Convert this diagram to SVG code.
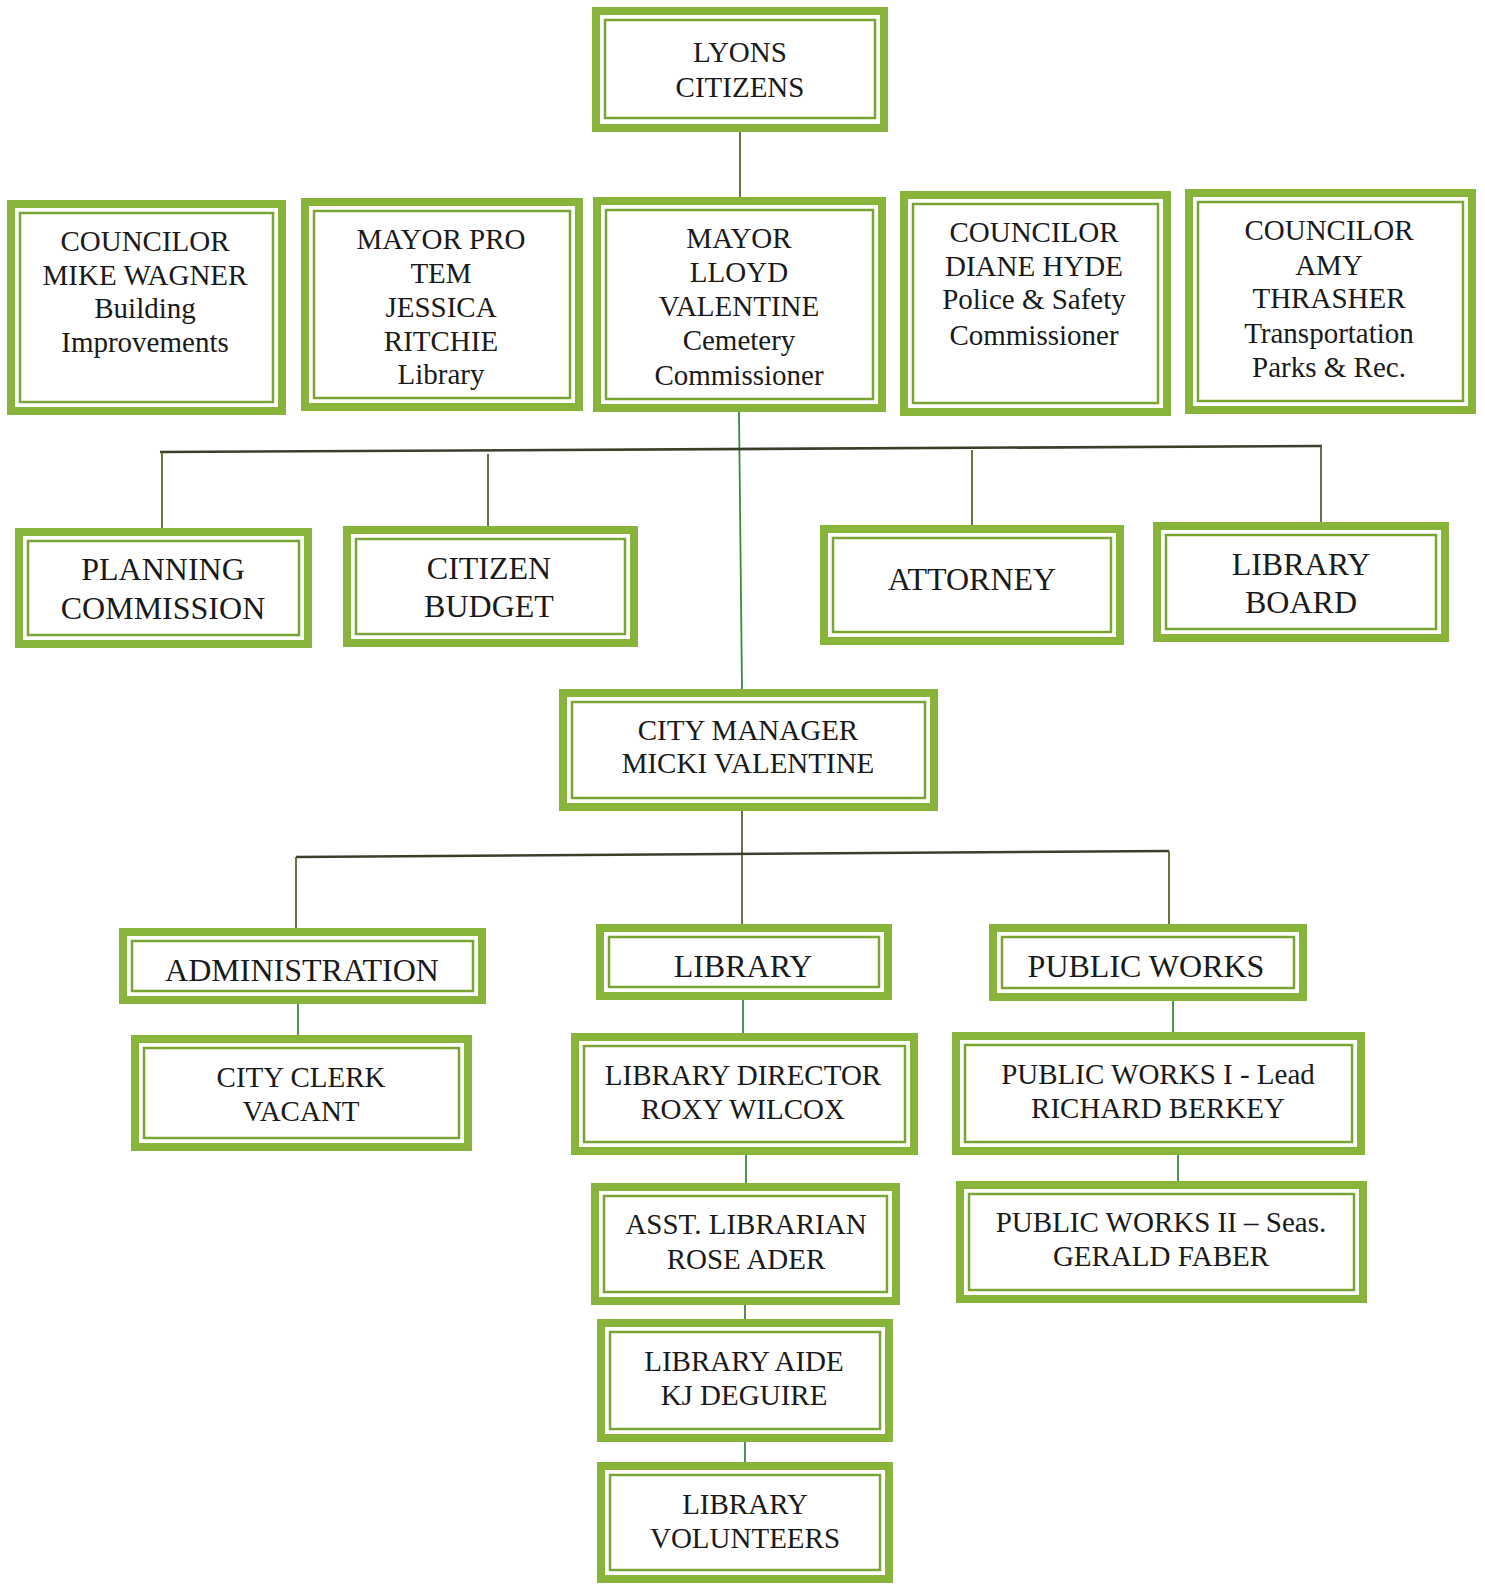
<svg xmlns="http://www.w3.org/2000/svg" width="1485" height="1585" viewBox="0 0 1485 1585">
<style>
.o{fill:#fff;stroke:#88b43c;stroke-width:8}
.i{fill:none;stroke:#7aa534;stroke-width:2.5}
text{font-family:"Liberation Serif","Times New Roman",serif;fill:#1a1a1a;text-anchor:middle}
.s{font-size:29px}
.l{font-size:32px}
.c{stroke:#55672a;stroke-width:1.8;fill:none}
.b{stroke:#3a3f2a;stroke-width:2.6;fill:none}
.g{stroke:#3a8a3a;stroke-width:1.8;fill:none}
</style>
<rect width="1485" height="1585" fill="#fff"/>
<g id="connectors">
<line class="c" x1="740" y1="131" x2="740" y2="197"/>
<line class="g" x1="739" y1="412" x2="742" y2="689"/>
<line class="b" x1="160" y1="452" x2="1322" y2="446"/>
<line class="c" x1="162" y1="452" x2="162" y2="528"/>
<line class="c" x1="488" y1="454" x2="488" y2="526"/>
<line class="c" x1="972" y1="450" x2="972" y2="525"/>
<line class="c" x1="1321" y1="446" x2="1321" y2="522"/>
<line class="c" x1="742" y1="811" x2="742" y2="924"/>
<line class="b" x1="296" y1="857" x2="1169" y2="851"/>
<line class="c" x1="296" y1="857" x2="296" y2="928"/>
<line class="c" x1="1169" y1="851" x2="1169" y2="924"/>
<line class="g" x1="298" y1="1004" x2="298" y2="1035"/>
<line class="g" x1="743" y1="1000" x2="743" y2="1033"/>
<line class="g" x1="1173" y1="1001" x2="1173" y2="1032"/>
<line class="g" x1="746" y1="1155" x2="746" y2="1183"/>
<line class="g" x1="1178" y1="1155" x2="1178" y2="1181"/>
<line class="g" x1="745" y1="1305" x2="745" y2="1319"/>
<line class="g" x1="745" y1="1442" x2="745" y2="1462"/>
</g>
<g id="lyons"><rect class="o" x="596" y="11" width="288" height="117"/><rect class="i" x="605" y="20" width="270" height="98"/>
<text class="s" x="740" y="62">LYONS</text><text class="s" x="740" y="97">CITIZENS</text></g>
<g id="wagner"><rect class="o" x="11" y="204" width="271" height="207"/><rect class="i" x="20" y="213" width="253" height="189"/>
<text class="s" x="145" y="251">COUNCILOR</text><text class="s" x="145" y="285">MIKE WAGNER</text><text class="s" x="145" y="318">Building</text><text class="s" x="145" y="352">Improvements</text></g>
<g id="protem"><rect class="o" x="305" y="202" width="274" height="205"/><rect class="i" x="314" y="211" width="256" height="187"/>
<text class="s" x="441" y="249">MAYOR PRO</text><text class="s" x="441" y="283">TEM</text><text class="s" x="441" y="317">JESSICA</text><text class="s" x="441" y="351">RITCHIE</text><text class="s" x="441" y="384">Library</text></g>
<g id="mayor"><rect class="o" x="597" y="201" width="285" height="207"/><rect class="i" x="606" y="210" width="267" height="189"/>
<text class="s" x="739" y="248">MAYOR</text><text class="s" x="739" y="282">LLOYD</text><text class="s" x="739" y="316">VALENTINE</text><text class="s" x="739" y="350">Cemetery</text><text class="s" x="739" y="385">Commissioner</text></g>
<g id="hyde"><rect class="o" x="904" y="195" width="263" height="217"/><rect class="i" x="913" y="204" width="245" height="199"/>
<text class="s" x="1034" y="242">COUNCILOR</text><text class="s" x="1034" y="276">DIANE HYDE</text><text class="s" x="1034" y="309">Police &amp; Safety</text><text class="s" x="1034" y="345">Commissioner</text></g>
<g id="thrasher"><rect class="o" x="1189" y="193" width="283" height="217"/><rect class="i" x="1198" y="202" width="265" height="199"/>
<text class="s" x="1329" y="240">COUNCILOR</text><text class="s" x="1329" y="275">AMY</text><text class="s" x="1329" y="308">THRASHER</text><text class="s" x="1329" y="343">Transportation</text><text class="s" x="1329" y="377">Parks &amp; Rec.</text></g>
<g id="planning"><rect class="o" x="19" y="532" width="289" height="112"/><rect class="i" x="28" y="541" width="271" height="94"/>
<text class="l" x="163" y="580">PLANNING</text><text class="l" x="163" y="619">COMMISSION</text></g>
<g id="budget"><rect class="o" x="347" y="530" width="287" height="113"/><rect class="i" x="356" y="539" width="269" height="95"/>
<text class="l" x="489" y="579">CITIZEN</text><text class="l" x="489" y="617">BUDGET</text></g>
<g id="attorney"><rect class="o" x="824" y="529" width="296" height="112"/><rect class="i" x="833" y="538" width="278" height="94"/>
<text class="l" x="972" y="590">ATTORNEY</text></g>
<g id="libboard"><rect class="o" x="1157" y="526" width="288" height="112"/><rect class="i" x="1166" y="535" width="270" height="94"/>
<text class="l" x="1301" y="575">LIBRARY</text><text class="l" x="1301" y="613">BOARD</text></g>
<g id="citymanager"><rect class="o" x="563" y="693" width="371" height="114"/><rect class="i" x="572" y="702" width="353" height="96"/>
<text class="s" x="748" y="740">CITY MANAGER</text><text class="s" x="748" y="773">MICKI VALENTINE</text></g>
<g id="admin"><rect class="o" x="123" y="932" width="359" height="68"/><rect class="i" x="132" y="941" width="341" height="50"/>
<text class="l" x="302" y="981">ADMINISTRATION</text></g>
<g id="library"><rect class="o" x="600" y="928" width="288" height="68"/><rect class="i" x="609" y="937" width="270" height="50"/>
<text class="l" x="743" y="977">LIBRARY</text></g>
<g id="publicworks"><rect class="o" x="993" y="928" width="310" height="69"/><rect class="i" x="1002" y="937" width="292" height="51"/>
<text class="l" x="1146" y="977">PUBLIC WORKS</text></g>
<g id="clerk"><rect class="o" x="135" y="1039" width="333" height="108"/><rect class="i" x="144" y="1048" width="315" height="90"/>
<text class="s" x="301" y="1087">CITY CLERK</text><text class="s" x="301" y="1121">VACANT</text></g>
<g id="director"><rect class="o" x="575" y="1037" width="339" height="114"/><rect class="i" x="584" y="1046" width="321" height="96"/>
<text class="s" x="743" y="1085">LIBRARY DIRECTOR</text><text class="s" x="743" y="1119">ROXY WILCOX</text></g>
<g id="pw1"><rect class="o" x="956" y="1036" width="405" height="115"/><rect class="i" x="965" y="1045" width="387" height="97"/>
<text class="s" x="1158" y="1084">PUBLIC WORKS I - Lead</text><text class="s" x="1158" y="1118">RICHARD BERKEY</text></g>
<g id="asst"><rect class="o" x="595" y="1187" width="301" height="114"/><rect class="i" x="604" y="1196" width="283" height="96"/>
<text class="s" x="746" y="1234">ASST. LIBRARIAN</text><text class="s" x="746" y="1269">ROSE ADER</text></g>
<g id="pw2"><rect class="o" x="960" y="1185" width="403" height="114"/><rect class="i" x="969" y="1194" width="385" height="96"/>
<text class="s" x="1161" y="1232">PUBLIC WORKS II – Seas.</text><text class="s" x="1161" y="1266">GERALD FABER</text></g>
<g id="aide"><rect class="o" x="601" y="1323" width="288" height="115"/><rect class="i" x="610" y="1332" width="270" height="97"/>
<text class="s" x="744" y="1371">LIBRARY AIDE</text><text class="s" x="744" y="1405">KJ DEGUIRE</text></g>
<g id="volunteers"><rect class="o" x="601" y="1466" width="288" height="113"/><rect class="i" x="610" y="1475" width="270" height="95"/>
<text class="s" x="745" y="1514">LIBRARY</text><text class="s" x="745" y="1548">VOLUNTEERS</text></g>
</svg>
